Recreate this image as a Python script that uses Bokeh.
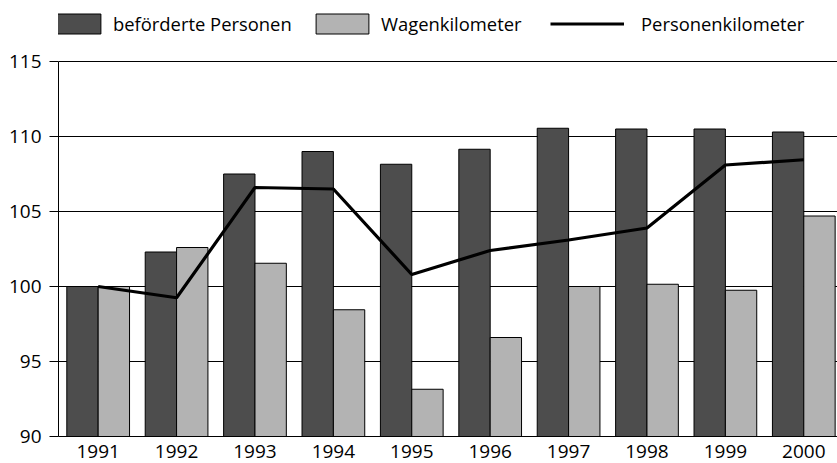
import numpy as np
from bokeh.plotting import figure
from bokeh.models import Range1d, FixedTicker, Legend, LegendItem, ColumnDataSource
from bokeh.embed import file_html
from bokeh.resources import INLINE

years = ["1991", "1992", "1993", "1994", "1995", "1996", "1997", "1998", "1999", "2000"]
befoerderte_personen = [100.0, 102.3, 107.5, 109.0, 108.15, 109.15, 110.55, 110.5, 110.5, 110.3]
wagenkilometer = [100.0, 102.6, 101.55, 98.45, 93.15, 96.6, 100.0, 100.15, 99.75, 104.7]
personenkilometer = [100.0, 99.25, 106.6, 106.5, 100.8, 102.4, 103.1, 103.9, 108.1, 108.45]
y_ticks = [90, 95, 100, 105, 110, 115]

FONT = "Open Sans"
DARK = "#4d4d4d"
LIGHT = "#b3b3b3"

idx = np.arange(len(years))
src = ColumnDataSource(dict(
    x=idx, x_left=idx - 0.2, x_right=idx + 0.2,
    bp=befoerderte_personen, wk=wagenkilometer, pk=personenkilometer,
))

# frame spans up to the top of the canvas so the legends (inside the frame) are not clipped;
# the value axis itself is bounded to 90..115
FRAME_H = 436
p = figure(
    frame_width=779, frame_height=FRAME_H,
    min_border_left=58, min_border_right=0, min_border_top=0, min_border_bottom=27,
    x_range=Range1d(-0.506, 9.43), y_range=Range1d(90, 90 + FRAME_H / 15.0),
    output_backend="svg", toolbar_location=None,
)
p.outline_line_color = None
p.background_fill_color = "white"
p.border_fill_color = "white"

r1 = p.vbar(x="x_left", width=0.4, top="bp", bottom=90, source=src,
            fill_color=DARK, line_color="black", line_width=1)
r2 = p.vbar(x="x_right", width=0.4, top="wk", bottom=90, source=src,
            fill_color=LIGHT, line_color="black", line_width=1)
r3 = p.line(x="x", y="pk", source=src, line_color="black", line_width=3.2)

# axes
p.xaxis.ticker = FixedTicker(ticks=list(idx))
p.xaxis.major_label_overrides = {int(i): y for i, y in zip(idx, years)}
p.xaxis.major_tick_out = 0
p.xaxis.major_tick_in = 0
p.xaxis.minor_tick_line_color = None
p.xaxis.major_label_standoff = 8
p.xaxis.axis_line_color = "black"

p.yaxis.ticker = FixedTicker(ticks=y_ticks)
p.yaxis.bounds = (90, 115)
p.yaxis.major_tick_out = 9
p.yaxis.major_tick_in = 0
p.yaxis.minor_tick_line_color = None
p.yaxis.major_label_standoff = 8
p.yaxis.axis_line_color = "black"
p.yaxis.major_tick_line_color = "black"

for ax in (p.xaxis, p.yaxis):
    ax.major_label_text_font = FONT
    ax.major_label_text_font_size = "19px"
    ax.major_label_text_color = "black"

p.xgrid.grid_line_color = None
p.ygrid.ticker = FixedTicker(ticks=y_ticks)
p.ygrid.grid_line_color = "black"
p.ygrid.grid_line_width = 1

def make_legend(label, renderer, loc, gw, standoff):
    lg = Legend(items=[LegendItem(label=label, renderers=[renderer])],
                location=loc, orientation="horizontal",
                glyph_width=gw, glyph_height=25, label_height=25,
                label_standoff=standoff, padding=0, margin=0, spacing=0,
                border_line_color=None, background_fill_alpha=0,
                label_text_font=FONT, label_text_font_size="18.4px",
                label_text_color="black")
    p.add_layout(lg, "center")

# legend boxes positioned relative to the frame (left edge at x=58, bottom at y=436)
make_legend("beförderte Personen", r1, (-17, 400), 66, 6)
make_legend("Wagenkilometer", r2, (251, 400), 66, 6)
make_legend("Personenkilometer", r3, (492, 400), 74, 17)

open("out.html", "w").write(file_html(p, INLINE))
